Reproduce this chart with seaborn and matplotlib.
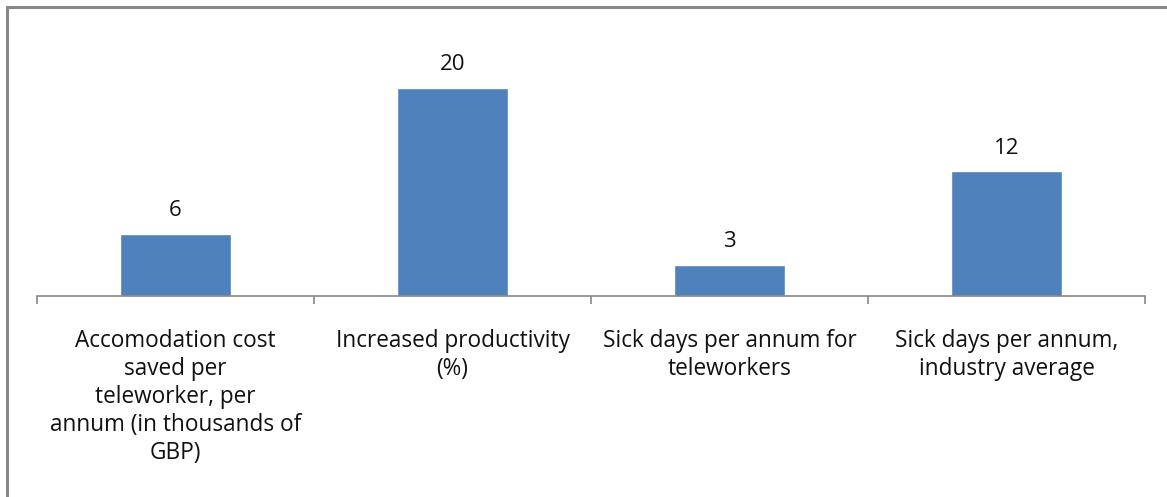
import numpy as np
import pandas as pd
import matplotlib
matplotlib.use("Agg")
import matplotlib.pyplot as plt
import seaborn as sns

# Chart data
categories = [
    "Accomodation cost\nsaved per\nteleworker, per\nannum (in thousands of\nGBP)",
    "Increased productivity\n(%)",
    "Sick days per annum for\nteleworkers",
    "Sick days per annum,\nindustry average",
]
values = [6, 20, 3, 12]

sns.set_style("white")
plt.rcParams['font.family'] = ['Open Sans', 'DejaVu Sans']

df = pd.DataFrame({"category": categories, "value": values})

fig = plt.figure(figsize=(11.67, 4.97), dpi=100)
ax = fig.add_axes([37 / 1167, (497 - 296) / 497, 1108 / 1167, 250 / 497])

sns.barplot(data=df, x="category", y="value", color="#4F81BD", saturation=1,
            width=0.4, ax=ax)

ax.set_xlim(-0.5, len(categories) - 0.5)
ax.set_ylim(0, 24)
ax.set_xlabel("")
ax.set_ylabel("")
ax.set_yticks([])

# boundary ticks (major) and centred labels (minor)
ax.set_xticks(np.arange(-0.5, len(categories), 1.0))
ax.set_xticklabels([])
ax.tick_params(axis="x", which="major", length=6, width=1.2, color="#888888",
               direction="out", bottom=True)
ax.set_xticks(np.arange(len(categories)), minor=True)
ax.set_xticklabels(categories, minor=True, fontsize=16.3, color="#111111",
                   linespacing=1.22)
ax.tick_params(axis="x", which="minor", length=0, pad=24)

for side in ["top", "right", "left"]:
    ax.spines[side].set_visible(False)
ax.spines["bottom"].set_color("#888888")
ax.spines["bottom"].set_linewidth(1.2)

ax.bar_label(ax.containers[0], labels=[str(v) for v in values], padding=9,
             fontsize=16, color="#111111")

# outer chart border
fig.add_artist(plt.Line2D([6.5 / 1167, 6.5 / 1167], [0, 1 - 7 / 497],
                          transform=fig.transFigure, color="#888888", lw=2.2))
fig.add_artist(plt.Line2D([6.5 / 1167, 1], [1 - 7 / 497, 1 - 7 / 497],
                          transform=fig.transFigure, color="#888888", lw=2.2))

fig.savefig("out.png", dpi=100)
